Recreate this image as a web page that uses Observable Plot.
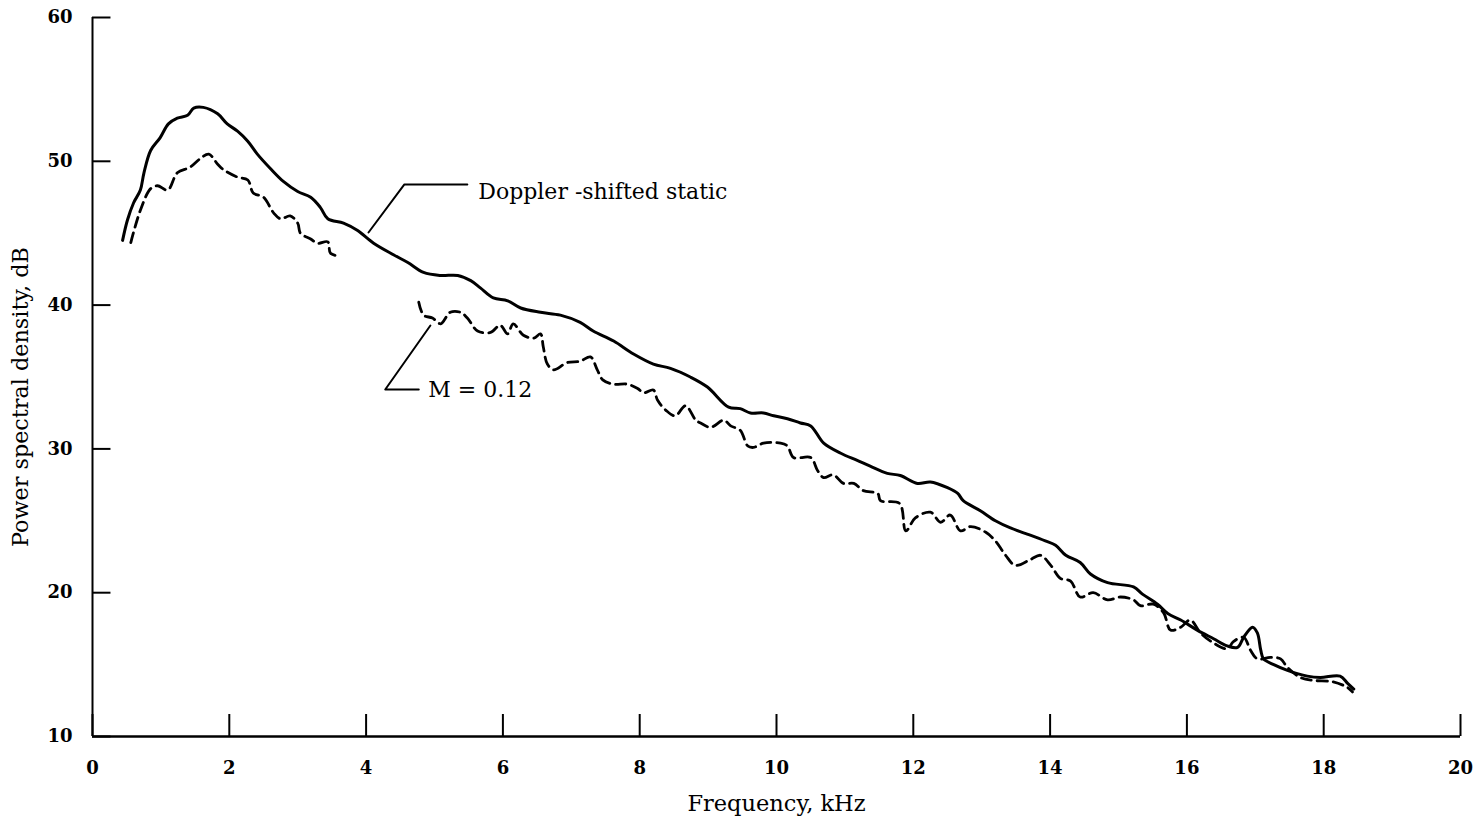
<!DOCTYPE html>
<html><head><meta charset="utf-8">
<script src="https://cdn.jsdelivr.net/npm/d3@7"></script>
<script src="https://cdn.jsdelivr.net/npm/@observablehq/plot@0.6"></script>
<style>body{margin:0;background:#fff}</style>
</head><body><div id="chart"></div>
<script>
// Tick values
const xTicks = [0, 2, 4, 6, 8, 10, 12, 14, 16, 18, 20];
const yTicks = [10, 20, 30, 40, 50, 60];

// Doppler-shifted static (solid)
const staticFreq = [0.44,0.51,0.60,0.70,0.75,0.85,0.99,1.11,1.24,1.39,1.48,1.62,1.83,1.97,2.12,2.27,2.41,2.60,2.79,3.00,3.19,3.33,3.44,3.67,3.87,4.11,4.40,4.61,4.84,5.09,5.34,5.53,5.67,5.86,6.07,6.26,6.55,6.84,7.13,7.32,7.62,7.91,8.20,8.45,8.74,8.99,9.30,9.47,9.62,9.81,9.96,10.16,10.35,10.50,10.69,10.94,11.18,11.37,11.62,11.81,12.06,12.25,12.50,12.65,12.73,12.98,13.20,13.42,13.71,13.93,14.08,14.23,14.44,14.59,14.84,15.22,15.35,15.57,15.72,15.91,16.15,16.39,16.59,16.74,16.83,16.96,17.03,17.08,17.12,17.27,17.47,17.76,17.95,18.24,18.35,18.44];
const staticPSD = [44.5,45.9,47.1,48.0,49.15,50.75,51.65,52.6,53.0,53.2,53.7,53.75,53.3,52.6,52.1,51.4,50.5,49.5,48.6,47.9,47.5,46.8,46.0,45.7,45.2,44.3,43.5,42.96,42.27,42.06,42.06,41.7,41.2,40.5,40.3,39.8,39.5,39.3,38.8,38.2,37.5,36.6,35.9,35.6,35.0,34.3,32.9,32.8,32.5,32.5,32.3,32.1,31.8,31.6,30.4,29.7,29.2,28.8,28.3,28.15,27.6,27.7,27.3,26.9,26.4,25.7,25.0,24.5,24.0,23.6,23.3,22.6,22.1,21.3,20.7,20.4,19.9,19.2,18.55,18.1,17.4,16.8,16.3,16.2,16.9,17.6,17.2,16.0,15.4,15.0,14.6,14.2,14.1,14.2,13.7,13.3];

// M = 0.12 (dashed), segment 1 and segment 2
const flightFreq1 = [0.56,0.70,0.85,0.95,1.10,1.24,1.43,1.58,1.70,1.83,1.92,2.12,2.27,2.35,2.50,2.65,2.75,2.89,3.00,3.04,3.19,3.29,3.44,3.48,3.63];
const flightPSD1 = [44.35,46.6,48.1,48.3,48.0,49.2,49.6,50.2,50.5,49.8,49.4,48.9,48.7,47.8,47.5,46.4,46.0,46.2,45.7,45.0,44.6,44.3,44.4,43.6,43.4];
const flightFreq2 = [4.77,4.84,4.97,5.09,5.23,5.38,5.48,5.63,5.82,5.96,6.07,6.15,6.30,6.45,6.55,6.59,6.65,6.74,6.94,7.13,7.28,7.38,7.46,7.62,7.82,7.97,8.06,8.20,8.26,8.38,8.52,8.67,8.82,8.89,9.04,9.23,9.33,9.47,9.58,9.66,9.81,10.06,10.16,10.25,10.50,10.60,10.69,10.83,10.98,11.13,11.27,11.48,11.52,11.80,11.89,12.03,12.25,12.40,12.54,12.69,12.84,13.06,13.20,13.35,13.49,13.71,13.86,14.01,14.15,14.30,14.44,14.63,14.84,15.03,15.22,15.32,15.51,15.66,15.76,15.91,16.05,16.20,16.39,16.59,16.68,16.83,16.93,17.03,17.22,17.37,17.47,17.66,17.85,18.14,18.35,18.42];
const flightPSD2 = [40.2,39.3,39.1,38.7,39.5,39.5,39.1,38.2,38.1,38.6,38.0,38.7,37.9,37.7,38.0,37.1,35.9,35.5,36.0,36.1,36.4,35.5,34.8,34.5,34.5,34.2,33.9,34.1,33.4,32.7,32.3,33.0,32.0,31.8,31.5,32.0,31.6,31.3,30.2,30.1,30.4,30.4,30.2,29.4,29.4,28.5,28.0,28.2,27.6,27.6,27.1,26.9,26.4,26.2,24.3,25.2,25.6,24.9,25.4,24.3,24.6,24.2,23.6,22.6,21.9,22.3,22.6,21.9,21.0,20.8,19.7,20.0,19.5,19.7,19.5,19.1,19.2,18.6,17.4,17.6,18.1,17.2,16.5,16.1,16.6,16.9,16.0,15.4,15.5,15.4,14.8,14.1,13.9,13.8,13.4,13.1];

// Annotations
const labelStatic = "Doppler -shifted static";
const labelFlight = "M = 0.12";
const leaderStaticX = [4.035, 4.56, 5.48];
const leaderStaticY = [45.05, 48.39, 48.39];
const leaderFlightX = [4.94, 4.28, 4.77];
const leaderFlightY = [38.58, 34.13, 34.13];
const annoX = [5.64, 4.91];
const annoY = [47.9, 34.13];

const xLabel = "Frequency, kHz";
const yLabel = "Power spectral density, dB";
const xLabelPos = [10.0, 10];   // x center, at bottom axis
const yLabelPos = [0, 33.6];    // at left axis, y center

const zip = (xs, ys) => xs.map((x, i) => ({x, y: ys[i]}));

const chart = Plot.plot({
  width: 1483, height: 821,
  marginLeft: 92, marginRight: 23, marginTop: 17, marginBottom: 85,
  style: {fontFamily: "DejaVu Serif", background: "#fff", color: "#000"},
  x: {domain: [0, 20], axis: null},
  y: {domain: [10, 60], axis: null},
  marks: [
    Plot.text(xTicks, {x: d => d, y: yTicks[0], dy: 32, text: d => String(d), fontSize: 18, fontWeight: "bold", fill: "#000"}),
    Plot.text(yTicks, {x: xTicks[0], y: d => d, dx: -20, textAnchor: "end", text: d => String(d), fontSize: 18, fontWeight: "bold", fill: "#000"}),
    Plot.ruleX(xTicks, {x: d => d, y1: 10, y2: 11.53, stroke: "#000", strokeWidth: 2}),
    Plot.ruleY(yTicks, {y: d => d, x1: 0, x2: 0.27, stroke: "#000", strokeWidth: 2}),
    Plot.ruleX([0], {stroke: "#000", strokeWidth: 2}),
    Plot.ruleY([10], {stroke: "#000", strokeWidth: 2.5}),
    Plot.line(zip(staticFreq, staticPSD), {x: "x", y: "y", curve: "catmull-rom", stroke: "#000", strokeWidth: 3}),
    Plot.line(zip(flightFreq1, flightPSD1), {x: "x", y: "y", curve: "catmull-rom", stroke: "#000", strokeWidth: 2.8, strokeDasharray: "10,6"}),
    Plot.line(zip(flightFreq2, flightPSD2), {x: "x", y: "y", curve: "catmull-rom", stroke: "#000", strokeWidth: 2.8, strokeDasharray: "10,6"}),
    Plot.line(zip(leaderStaticX, leaderStaticY), {x: "x", y: "y", stroke: "#000", strokeWidth: 2}),
    Plot.line(zip(leaderFlightX, leaderFlightY), {x: "x", y: "y", stroke: "#000", strokeWidth: 2}),
    Plot.text([labelStatic, labelFlight], {x: (d, i) => annoX[i], y: (d, i) => annoY[i], text: d => d, textAnchor: "start", fontSize: 22, fill: "#000"}),
    Plot.text([xLabel], {x: xLabelPos[0], y: xLabelPos[1], dy: 67, text: d => d, fontSize: 22.5, fill: "#000"}),
    Plot.text([yLabel], {x: yLabelPos[0], y: yLabelPos[1], dx: -72, rotate: -90, text: d => d, fontSize: 22.3, fill: "#000"})
  ]
});
document.getElementById("chart").appendChild(chart);
</script>
</body></html>
